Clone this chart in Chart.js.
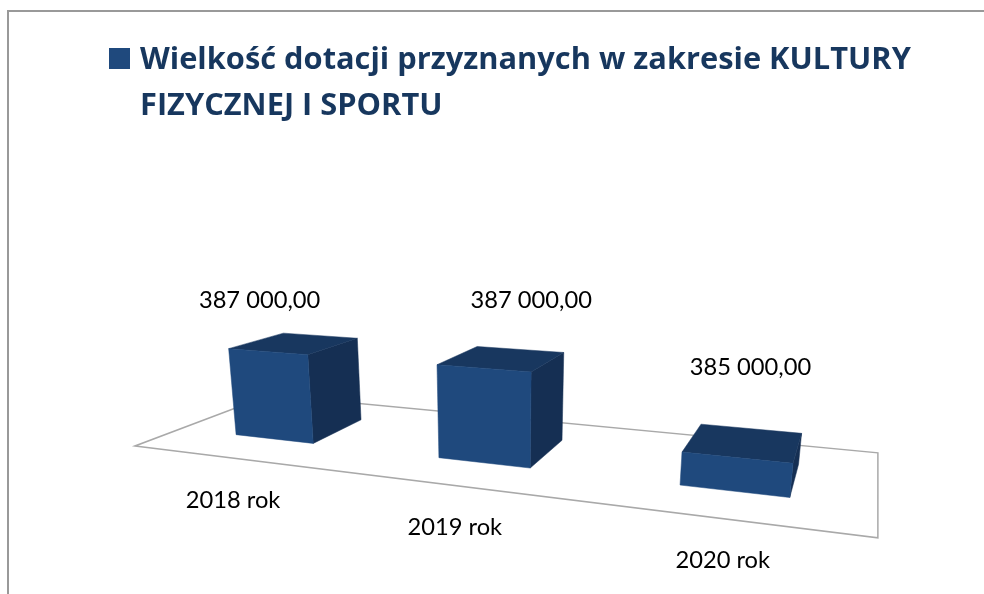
<!DOCTYPE html>
<html>
<head>
<meta charset="utf-8">
<style>
  html, body { margin: 0; background: #fff; }
  #frame { position: absolute; left: 7px; top: 10px; right: 0; bottom: 0; border-top: 2px solid #999; border-left: 2px solid #999; }
  canvas { position: absolute; left: 0; top: 0; }
</style>
<script src="https://cdn.jsdelivr.net/npm/chart.js@4/dist/chart.umd.js"></script>
</head>
<body>
<canvas id="myChart" width="984" height="594"></canvas>
<div id="frame"></div>
<script>
const categories = ["2018 rok", "2019 rok", "2020 rok"];
const values = [387000, 387000, 385000];
const titleLines = ["Wielkość dotacji przyznanych w zakresie KULTURY", "FIZYCZNEJ I SPORTU"];
const axisMin = 384000;
const axisMax = 388000;

// where the labels sit, relative to the front top edge of their bar
const labelShift = [[-8, -51], [48, -68], [14, -90]];
const tickDrop = 42;

const frontColor = "#1f497d";
const topColor = "#18375f";
const sideColor = "#152f53";
const titleColor = "#17375e";
const floorColor = "#a9a9a9";
const font = "Lato";
const titleFont = "Open Sans";

// camera: floor corner and the three axis directions (homogeneous)
const origin = [135, 446, 1];
const uAxis = [524.9, -41.7, -0.2483];
const vAxis = [-19, -132.7, -0.0379];
const wAxis = [194.9, 36.6, 0.222];
const depthFront = 0.3;
const depthBack = 0.72;

function project(u, v, w) {
  const p = origin.map((o, i) => o + u * uAxis[i] + v * vAxis[i] + w * wAxis[i]);
  return [p[0] / p[2], p[1] / p[2]];
}

function face(ctx, color, points) {
  ctx.beginPath();
  points.forEach((p, i) => {
    const xy = project(p[0], p[1], p[2]);
    if (i === 0) ctx.moveTo(xy[0], xy[1]);
    else ctx.lineTo(xy[0], xy[1]);
  });
  ctx.closePath();
  ctx.fillStyle = color;
  ctx.strokeStyle = color;
  ctx.lineWidth = 0.5;
  ctx.fill();
  ctx.stroke();
}

function formatValue(value) {
  return value.toFixed(2).replace(".", ",").replace(/\B(?=(\d{3})+,)/g, " ");
}

let area = null;

// bars keep their layout from the library, only the painting goes 3D
Chart.BarElement.prototype.draw = function (ctx) {
  const { x, y, base, width } = this.getProps(["x", "y", "base", "width"]);
  const u0 = (x - width / 2 - area.left) / area.width;
  const u1 = (x + width / 2 - area.left) / area.width;
  const v = (base - y) / area.height;
  const f = depthFront;
  const b = depthBack;
  ctx.save();
  face(ctx, sideColor, [[u1, 0, f], [u1, 0, b], [u1, v, b], [u1, v, f]]);
  face(ctx, topColor, [[u0, v, f], [u1, v, f], [u1, v, b], [u0, v, b]]);
  face(ctx, frontColor, [[u0, 0, f], [u1, 0, f], [u1, v, f], [u0, v, f]]);
  ctx.restore();
};

const scene = {
  id: "scene",
  afterLayout(chart) {
    area = chart.chartArea;
  },
  beforeDatasetsDraw(chart) {
    const ctx = chart.ctx;
    const title = chart.titleBlock;
    // legend square in front of the heading
    ctx.fillStyle = frontColor;
    ctx.fillRect(title.left - 31, title.top + 11, 21, 21);
    // floor outline
    ctx.beginPath();
    [[0, 0], [1, 0], [1, 1], [0, 1]].forEach((c, i) => {
      const xy = project(c[0], 0, c[1]);
      if (i === 0) ctx.moveTo(xy[0], xy[1]);
      else ctx.lineTo(xy[0], xy[1]);
    });
    ctx.closePath();
    ctx.strokeStyle = floorColor;
    ctx.lineWidth = 1.5;
    ctx.stroke();
  },
  afterDatasetsDraw(chart) {
    const ctx = chart.ctx;
    const bars = chart.getDatasetMeta(0).data;
    ctx.save();
    ctx.fillStyle = "#000";
    ctx.font = "23.7px " + font;
    ctx.textAlign = "center";
    ctx.textBaseline = "middle";
    bars.forEach((bar, i) => {
      const u = (bar.x - area.left) / area.width;
      const v = (bar.base - bar.y) / area.height;
      const top = project(u, v, depthFront);
      ctx.fillText(formatValue(values[i]), top[0] + labelShift[i][0], top[1] + labelShift[i][1]);
      const foot = project(u, 0, 0);
      ctx.fillText(categories[i], foot[0] + 1, foot[1] + tickDrop);
    });
    ctx.restore();
  },
};

new Chart(document.getElementById("myChart"), {
  type: "bar",
  data: {
    labels: categories,
    datasets: [{
      label: titleLines.join(" "),
      data: values,
      base: axisMin,
      backgroundColor: frontColor,
      categoryPercentage: 1,
      barPercentage: 0.4,
      clip: false,
    }],
  },
  options: {
    responsive: false,
    animation: false,
    layout: { padding: { left: 140, top: 37, right: 20, bottom: 20 } },
    scales: {
      x: { display: false },
      y: { display: false, min: axisMin, max: axisMax },
    },
    plugins: {
      legend: { display: false },
      tooltip: { enabled: false },
      title: {
        display: true,
        text: titleLines,
        align: "start",
        color: titleColor,
        font: { family: titleFont, size: 30.8, weight: "bold", lineHeight: 1.49 },
        padding: 0,
      },
    },
  },
  plugins: [scene],
});
</script>
</body>
</html>
